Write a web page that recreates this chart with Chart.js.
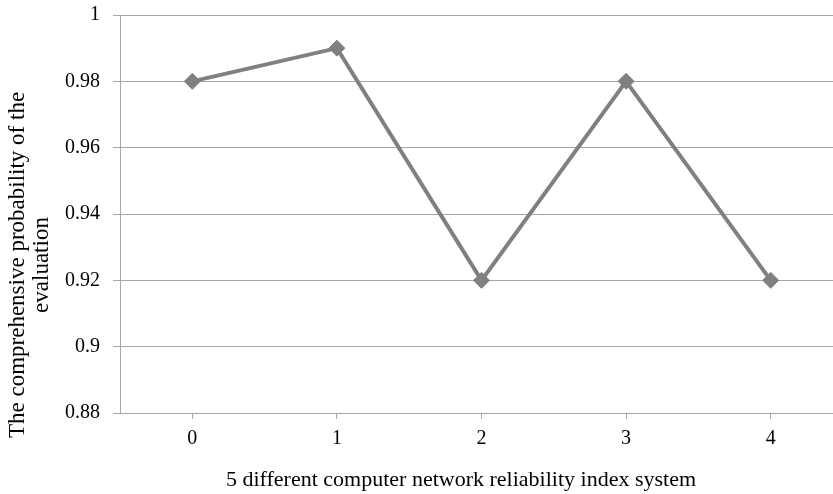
<!DOCTYPE html>
<html>
<head>
<meta charset="utf-8">
<script src="https://cdn.jsdelivr.net/npm/chart.js@4/dist/chart.umd.min.js"></script>
<style>
  html, body { margin: 0; padding: 0; background: #fff; overflow: hidden; }
  #wrap { width: 852px; height: 494px; }
</style>
</head>
<body>
<div id="wrap"><canvas id="chart"></canvas></div>
<script>
const categories = ['0', '1', '2', '3', '4'];
const probability = [0.98, 0.99, 0.92, 0.98, 0.92];
const yTicks = [0.88, 0.9, 0.92, 0.94, 0.96, 0.98, 1];
const xTitle = '5 different computer network reliability index system';
const yTitle = ['The comprehensive probability of the', 'evaluation'];

const serif = '"Liberation Serif", "Times New Roman", serif';
const tickFont = { family: serif, size: 20, lineHeight: 1.2 };

// axis titles sit off-centre in the original, so they are drawn here
const axisTitles = {
  id: 'axisTitles',
  afterDraw(chart) {
    const ctx = chart.ctx;
    ctx.save();
    ctx.fillStyle = '#000';
    ctx.textAlign = 'center';
    ctx.textBaseline = 'middle';
    ctx.font = '22px ' + serif;
    ctx.fillText(xTitle, 461, 480);
    ctx.translate(0, 265);
    ctx.rotate(-Math.PI / 2);
    ctx.font = '23px ' + serif;
    ctx.fillText(yTitle[0], 0, 18);
    ctx.fillText(yTitle[1], 0, 42);
    ctx.restore();
  }
};

new Chart(document.querySelector('#chart').getContext('2d'), {
  type: 'line',
  data: {
    labels: categories,
    datasets: [{
      data: probability,
      borderColor: '#808080',
      backgroundColor: '#808080',
      borderWidth: 4,
      pointStyle: 'rectRot',
      pointRadius: 8,
      pointHoverRadius: 8,
      pointBorderWidth: 1,
      tension: 0
    }]
  },
  options: {
    responsive: true,
    maintainAspectRatio: false,
    animation: false,
    layout: { padding: { top: 15, right: 7, left: 0, bottom: 0 } },
    plugins: { legend: { display: false }, tooltip: { enabled: false } },
    scales: {
      x: {
        offset: true,
        afterFit: axis => { axis.height = 81; },
        grid: { drawOnChartArea: false, color: '#a6a6a6', tickLength: 6 },
        border: { color: '#a6a6a6' },
        ticks: { font: tickFont, color: '#000', padding: 8 }
      },
      y: {
        min: 0.88,
        max: 1,
        afterBuildTicks: axis => { axis.ticks = yTicks.map(v => ({ value: v })); },
        afterFit: axis => { axis.width = 120; axis.paddingTop = 0; axis.paddingBottom = 0; },
        grid: { color: '#a6a6a6', tickLength: 7 },
        border: { color: '#a6a6a6' },
        ticks: {
          font: tickFont,
          color: '#000',
          padding: 13,
          callback: v => String(+v.toFixed(2))
        }
      }
    }
  },
  plugins: [axisTitles]
});
</script>
</body>
</html>
